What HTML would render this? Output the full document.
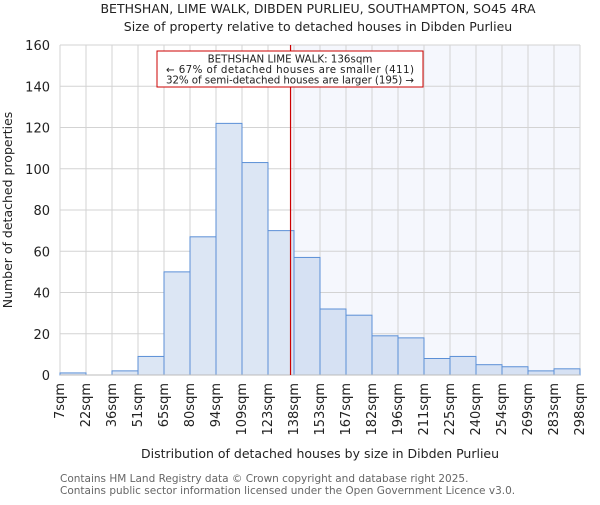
<!DOCTYPE html>
<html><head><meta charset="utf-8"><style>
body{margin:0;background:#fff}
svg{font-family:"DejaVu Sans","Liberation Sans",sans-serif}
</style></head><body>
<svg id="chart" width="600" height="500" viewBox="0 0 600 500">
<text x="318" y="13" font-size="12.5" text-anchor="middle" fill="#222">BETHSHAN, LIME WALK, DIBDEN PURLIEU, SOUTHAMPTON, SO45 4RA</text>
<text x="318" y="31" font-size="12.5" text-anchor="middle" fill="#222">Size of property relative to detached houses in Dibden Purlieu</text>
<g id="grid"></g>
<g id="bars"></g>
<g id="axes"></g>
<text x="12" y="210" font-size="12.5" text-anchor="middle" transform="rotate(-90 12 210)" fill="#222">Number of detached properties</text>
<text x="320" y="458" font-size="12.5" text-anchor="middle" fill="#222">Distribution of detached houses by size in Dibden Purlieu</text>
<text x="60" y="482" font-size="10.5" fill="#666">Contains HM Land Registry data © Crown copyright and database right 2025.</text>
<text x="60" y="494" font-size="10.5" fill="#666">Contains public sector information licensed under the Open Government Licence v3.0.</text>
</svg>
<script>
const binLabels=["7sqm","22sqm","36sqm","51sqm","65sqm","80sqm","94sqm","109sqm","123sqm","138sqm","153sqm","167sqm","182sqm","196sqm","211sqm","225sqm","240sqm","254sqm","269sqm","283sqm","298sqm"];
const binEdges=[7,22,36,51,65,80,94,109,123,138,153,167,182,196,211,225,240,254,269,283,298];
const counts=[1,0,2,9,50,67,122,103,70,57,32,29,19,18,8,9,5,4,2,3];
const yTicks=[0,20,40,60,80,100,120,140,160];
const subjectSize=136;
const annotationLines=["BETHSHAN LIME WALK: 136sqm","← 67% of detached houses are smaller (411)","32% of semi-detached houses are larger (195) →"];

const NS="http://www.w3.org/2000/svg";
const L=60,R=580,T=45,B=375,yMax=160;
const nb=counts.length,bw=(R-L)/nb;
const xIdx=i=>L+i*bw;
const xVal=v=>{for(let i=0;i<binEdges.length-1;i++){if(v<=binEdges[i+1])return xIdx(i)+(v-binEdges[i])/(binEdges[i+1]-binEdges[i])*bw;}return R;};
const y=v=>B-v/yMax*(B-T);
function mk(tag,attrs,parent){const e=document.createElementNS(NS,tag);for(const k in attrs)e.setAttribute(k,attrs[k]);parent.appendChild(e);return e;}
const grid=document.getElementById('grid'),bars=document.getElementById('bars'),axes=document.getElementById('axes');
const sx=xVal(subjectSize);
let sh=mk('rect',{x:sx,y:T,width:R-sx,height:B-T,fill:'#f5f7fd'},grid);


for(let i=0;i<=nb;i++){let g=mk('line',{x1:xIdx(i),x2:xIdx(i),y1:T,y2:B,stroke:'#d3d3d3','stroke-width':1},grid);

}
yTicks.forEach(t=>{let g=mk('line',{x1:L,x2:R,y1:y(t),y2:y(t),stroke:'#d3d3d3','stroke-width':1},grid);


let tx=mk('text',{x:L-10,y:y(t)+5,'font-size':13,'text-anchor':'end',fill:'#222'},axes);tx.textContent=t;

});
counts.forEach((c,i)=>{const right=xIdx(i)>=sx-1;
let r=mk('rect',{x:xIdx(i),y:y(c),width:bw,height:B-y(c),fill:right?'#d6e1f3':'#dce6f4',stroke:'#5b8fd6','stroke-width':1},bars);

});
binLabels.forEach((l,i)=>{const xx=xIdx(i)+4;let tx=mk('text',{x:xx,y:B+8,'font-size':13,'text-anchor':'end',fill:'#222',transform:`rotate(-90 ${xx} ${B+8})`},axes);tx.textContent=l;

});
let ax=mk('line',{x1:L,x2:R,y1:B,y2:B,stroke:'#bbb','stroke-width':1},axes);


let ml=mk('line',{x1:sx,x2:sx,y1:T,y2:B,stroke:'#cc0000','stroke-width':1.2},axes);


let box=mk('rect',{x:157,y:51,width:266,height:36,fill:'#fff',stroke:'#cc0000','stroke-width':1},axes);


annotationLines.forEach((s,i)=>{let tx=mk('text',{x:290,y:62.5+i*10.5,'font-size':10.3,'text-anchor':'middle',fill:'#222',textLength:i==0?null:248},axes);if(i==0)tx.removeAttribute('textLength');tx.textContent=s;

});
</script>
</body></html>
